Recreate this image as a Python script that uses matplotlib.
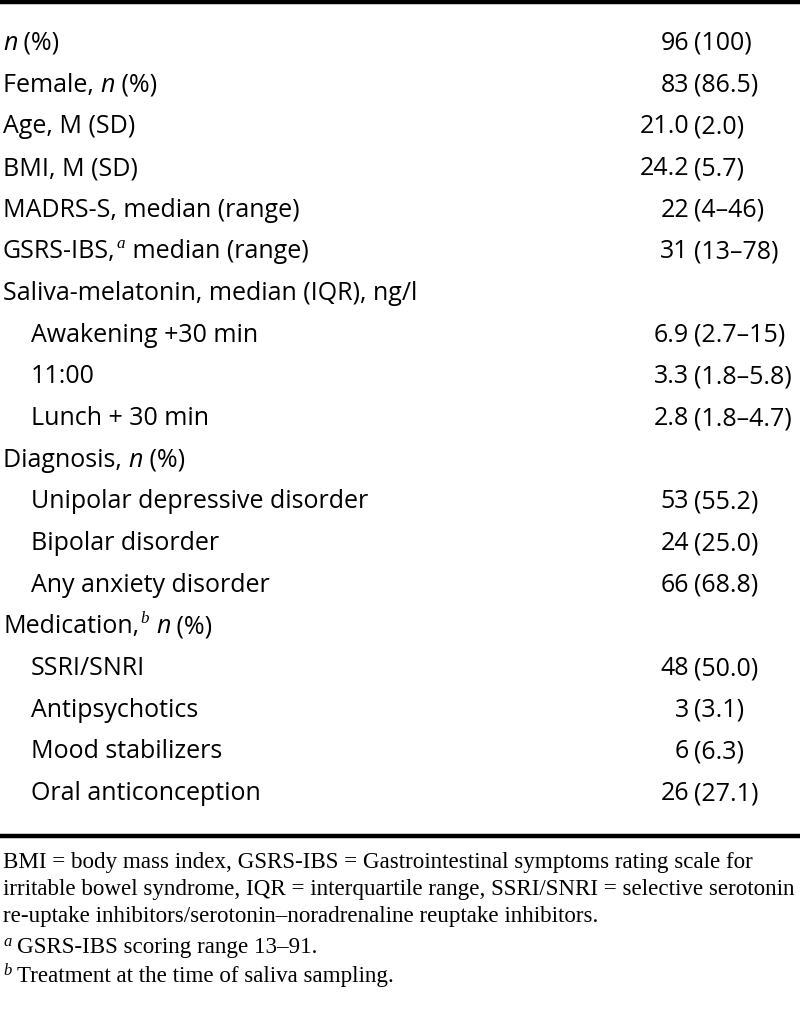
import re
import matplotlib.pyplot as plt

# table content
labels = [
    "*n* (%)",
    "Female, *n* (%)",
    "Age, M (SD)",
    "BMI, M (SD)",
    "MADRS-S, median (range)",
    "GSRS-IBS,^a median (range)",
    "Saliva-melatonin, median (IQR), ng/l",
    "Awakening +30 min",
    "11:00",
    "Lunch + 30 min",
    "Diagnosis, *n* (%)",
    "Unipolar depressive disorder",
    "Bipolar disorder",
    "Any anxiety disorder",
    "Medication,^b *n* (%)",
    "SSRI/SNRI",
    "Antipsychotics",
    "Mood stabilizers",
    "Oral anticonception",
]
indent = [0, 0, 0, 0, 0, 0, 0, 1, 1, 1, 0, 1, 1, 1, 0, 1, 1, 1, 1]
values = [
    "96 (100)", "83 (86.5)", "21.0 (2.0)", "24.2 (5.7)", "22 (4–46)",
    "31 (13–78)", "", "6.9 (2.7–15)", "3.3 (1.8–5.8)", "2.8 (1.8–4.7)",
    "", "53 (55.2)", "24 (25.0)", "66 (68.8)", "", "48 (50.0)",
    "3 (3.1)", "6 (6.3)", "26 (27.1)",
]
notes = [
    "BMI = body mass index, GSRS-IBS = Gastrointestinal symptoms rating scale for",
    "irritable bowel syndrome, IQR = interquartile range, SSRI/SNRI = selective serotonin",
    "re-uptake inhibitors/serotonin–noradrenaline reuptake inhibitors.",
]
marks = ["a", "b"]
mark_notes = ["GSRS-IBS scoring range 13–91.", "Treatment at the time of saliva sampling."]

BODY = "Open Sans"
NOTE = "Liberation Serif"
body_size = 18.0
note_size = 16.6

fig = plt.figure(figsize=(8, 10.09), dpi=100)
ax = fig.add_axes([0, 0, 1, 1])
ax.set_xlim(0, 800)
ax.set_ylim(1009, 0)
ax.axis("off")
renderer = fig.canvas.get_renderer()


def width(t):
    return t.get_window_extent(renderer).width


def draw_rich(x, y, s, family, size):
    """draw text with *italic* parts and ^x superscripts, left to right"""
    for part in re.split(r"(\*[^*]+\*|\^\w)", s):
        if not part:
            continue
        if part.startswith("*"):
            t = ax.text(x, y, part[1:-1], family=family, size=size,
                        style="italic", va="baseline")
        elif part.startswith("^"):
            t = ax.text(x + 1, y - size * 0.55, part[1:], family=NOTE,
                        size=size * 0.68, style="italic", va="baseline")
            x += 2
        else:
            t = ax.text(x, y, part, family=family, size=size, va="baseline")
        x += width(t)
    return x


# rules
ax.plot([0, 800], [1.8, 1.8], color="black", lw=3.2, solid_capstyle="butt")
ax.plot([0, 800], [835.5, 835.5], color="black", lw=3.2, solid_capstyle="butt")

y0, step = 50, 41.67
for i, (lab, lev, val) in enumerate(zip(labels, indent, values)):
    y = y0 + i * step
    draw_rich(3 + 28 * lev, y, lab, BODY, body_size)
    if val:
        head, tail = val.split(" ", 1)
        ax.text(689, y, head, family=BODY, size=body_size, ha="right", va="baseline")
        ax.text(694, y, tail, family=BODY, size=body_size, ha="left", va="baseline")

note_y = [868, 895, 922]
for y, s in zip(note_y, notes):
    ax.text(3, y, s, family=NOTE, size=note_size, va="baseline")

for y, m, s in zip([953, 982], marks, mark_notes):
    ax.text(3, y - 7, m, family=NOTE, size=note_size * 0.72, style="italic", va="baseline")
    ax.text(17, y, s, family=NOTE, size=note_size, va="baseline")

fig.savefig("out.png", dpi=100)
